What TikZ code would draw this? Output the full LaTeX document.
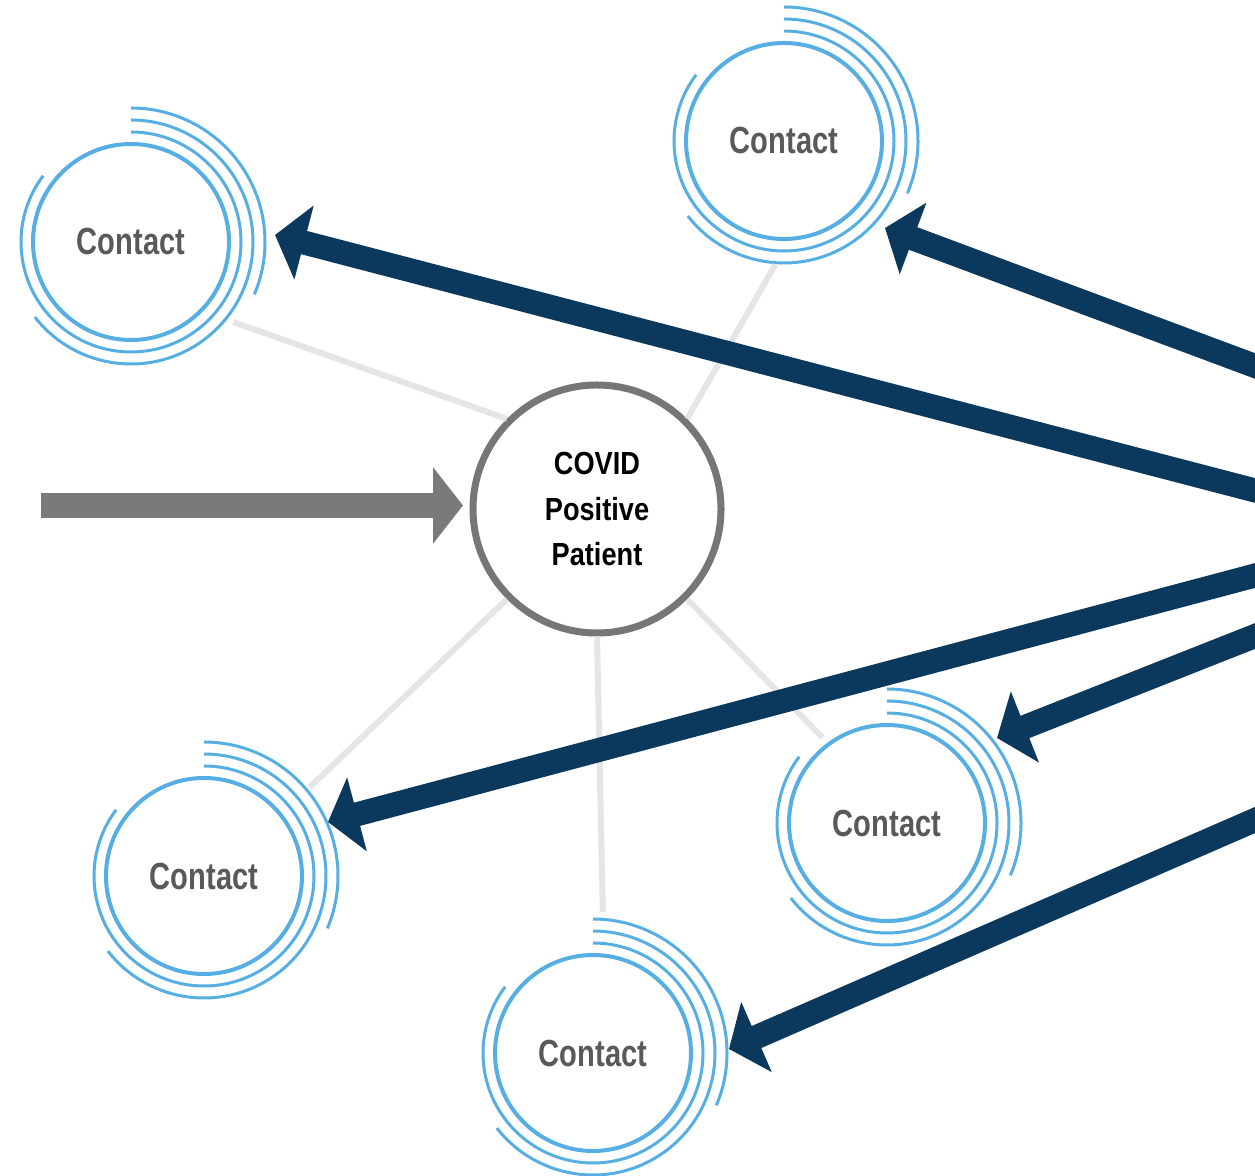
\documentclass[tikz,border=0pt]{standalone}
\usepackage{fontspec}
\setmainfont{Liberation Sans}
\newfontfamily\contactfont{Liberation Sans}[FakeStretch=0.77]
\newfontfamily\covidfont{Liberation Sans}[FakeStretch=0.85]
\usetikzlibrary{arrows.meta}
\definecolor{ringblue}{RGB}{86,174,226}
\definecolor{navy}{RGB}{11,57,93}
\definecolor{arrowgray}{RGB}{122,122,122}
\definecolor{rimgray}{RGB}{118,118,118}
\definecolor{linkgray}{RGB}{229,229,229}
\definecolor{textgray}{RGB}{89,89,89}
\tikzset{
	contact/.style={circle, draw=ringblue, line width=0.8mm, minimum size=39.2mm, inner sep=0pt, outer sep=0pt, text=textgray, font=\contactfont\bfseries\fontsize{21.5}{24}\selectfont},
	ring/.style={draw=ringblue, line width=0.6mm},
	patient/.style={circle, draw=rimgray, fill=white, line width=1.4mm, minimum size=49.6mm, inner sep=0pt, align=center, font=\covidfont\bfseries\fontsize{18.2}{26}\selectfont},
	link/.style={draw=linkgray, line width=1.2mm},
	intake/.style={draw=arrowgray, line width=5mm, -{Triangle[length=6mm,width=15mm]}},
	feed/.style={draw=navy, line width=4.8mm, shorten <=-6mm, -{Triangle[length=6mm,width=15mm]}}
}
\begin{document}
\begin{tikzpicture}[x=0.2mm, y=0.2mm]
		\useasboundingbox (0,0) rectangle (1255,1175);
		\clip (0,0) rectangle (1255,1175);
		\node[patient] (covid) at (597,666) {COVID\\Positive\\Patient};
		\node[contact] (c1) at (131,933) {Contact};
		\node[contact] (c2) at (784,1034) {Contact};
		\node[contact] (c3) at (204,299) {Contact};
		\node[contact] (c4) at (593,122) {Contact};
		\node[contact] (c5) at (887,352) {Contact};
		% open rings round each contact
		\foreach \c in {c1,c2,c3,c4,c5}{
			\draw[ring] (\c) ++(90:110) arc[start angle=90, end angle=-217, radius=110];
			\draw[ring] (\c) ++(-142:122) arc[start angle=-142, end angle=90, radius=122];
			\draw[ring] (\c) ++(-23:134) arc[start angle=-23, end angle=90, radius=134];
		}
		\draw[link] (covid.135) -- ([shift={(-38:130)}]c1.center);
		\draw[link] (covid.45) -- ([shift={(-94:124)}]c2.center);
		\draw[link] (covid.225) -- ([shift={(40:138)}]c3.center);
		\draw[link] (covid.-90) -- ([shift={(86:141)}]c4.center);
		\draw[link] (covid.-45) -- ([shift={(127:107)}]c5.center);
		\coordinate (src) at (41,669.5);
		\coordinate (dst) at (463,669.5);
		\draw[intake] (src) -- (dst);
		\coordinate (s1) at (1255,684.5);
		\coordinate (t1) at (275,940);
		\coordinate (s2) at (1255,809);
		\coordinate (t2) at (885,947);
		\coordinate (s3) at (1255,599.5);
		\coordinate (t3) at (328,353);
		\coordinate (s4) at (1255,355);
		\coordinate (t4) at (729,126);
		\coordinate (s5) at (1255,539);
		\coordinate (t5) at (997,437);
		\draw[feed] (s1) -- (t1);
		\draw[feed] (s2) -- (t2);
		\draw[feed] (s3) -- (t3);
		\draw[feed] (s4) -- (t4);
		\draw[feed] (s5) -- (t5);
\end{tikzpicture}
\end{document}
